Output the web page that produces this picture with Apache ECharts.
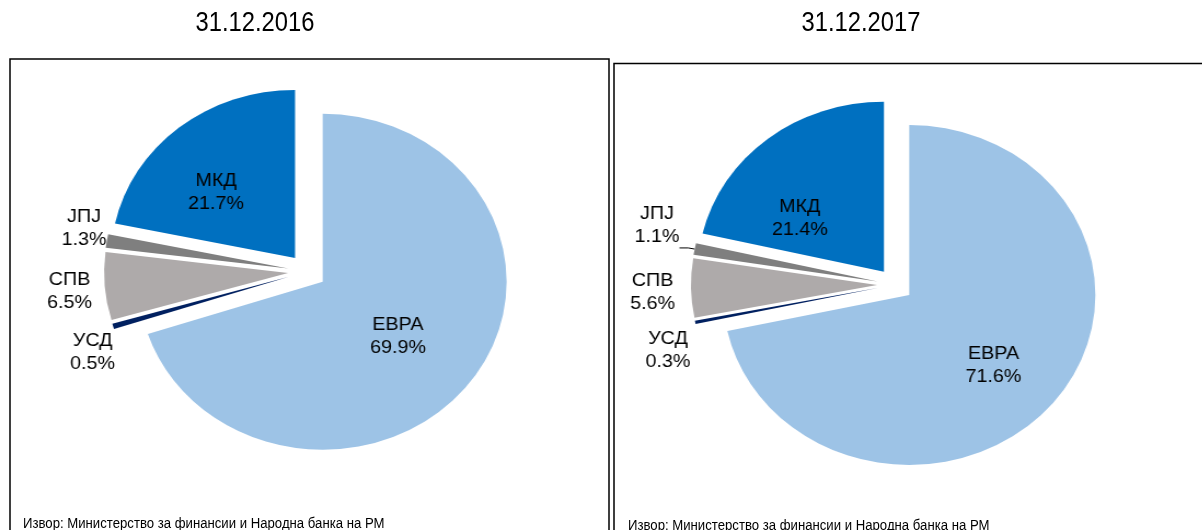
<!DOCTYPE html>
<html>
<head>
<meta charset="utf-8">
<script src="https://cdn.jsdelivr.net/npm/echarts@6/dist/echarts.min.js"></script>
<style>
html, body { margin: 0; padding: 0; background: #fff; }
#frame { position: absolute; left: 0; top: 0; width: 1202px; height: 530px; }
/* Excel chart was pasted stretched, so the pies are ellipses: stretch the pie layer */
#pies { position: absolute; left: 0; top: 0; width: 1098px; height: 530px;
        transform: scaleX(1.095); transform-origin: 0 0; }
</style>
</head>
<body>
<div id="frame"></div>
<div id="pies"></div>
<script>
// податоци
var categories = ['ЕВРА', 'УСД', 'СПВ', 'ЈПЈ', 'МКД'];
var share2016 = [69.9, 0.5, 6.5, 1.3, 21.7];
var share2017 = [71.6, 0.3, 5.6, 1.1, 21.4];
var panelTitles = ['31.12.2016', '31.12.2017'];
var sourceNote = 'Извор: Министерство за финансии и Народна банка на РМ';

var sliceColors = ['#9DC3E6', '#002060', '#AEAAAA', '#7F7F7F', '#0070C0'];
var stretch = 1.095;
var labelFont = 'Liberation Sans, Arial, sans-serif';

// label nudges from the library position (local px, per series / data index)
var labelNudge = [
    { 0: [-1.7, 4], 1: [0, 24.5], 2: [-13.2, 5], 3: [-1.8, -11.5], 4: [-17.3, 2.5] },
    { 0: [8.5, 15], 1: [-6, 26.5], 2: [-16, 4.5], 3: [-15.5, -22], 4: [-22, 15.5] }
];

// рамки, наслови, извор
var frameChart = echarts.init(document.getElementById('frame'));
frameChart.setOption({
    animation: false,
    graphic: [
        { type: 'rect', shape: { x: 10, y: 59, width: 599, height: 500 },
          style: { fill: 'none', stroke: '#000', lineWidth: 1.5 } },
        { type: 'rect', shape: { x: 614, y: 63.5, width: 620, height: 500 },
          style: { fill: 'none', stroke: '#000', lineWidth: 1.5 } },
        { type: 'text', x: 255, y: 24, scaleX: 0.88,
          style: { text: panelTitles[0], font: '27px "Liberation Sans", Arial', fill: '#000',
                   textAlign: 'center', textVerticalAlign: 'middle' } },
        { type: 'text', x: 861, y: 24, scaleX: 0.88,
          style: { text: panelTitles[1], font: '27px "Liberation Sans", Arial', fill: '#000',
                   textAlign: 'center', textVerticalAlign: 'middle' } },
        { type: 'text', x: 23, y: 524, scaleX: 0.94,
          style: { text: sourceNote, font: '14px "Liberation Sans", Arial', fill: '#000',
                   textAlign: 'left', textVerticalAlign: 'middle' } },
        { type: 'text', x: 628, y: 526, scaleX: 0.94,
          style: { text: sourceNote, font: '14px "Liberation Sans", Arial', fill: '#000',
                   textAlign: 'left', textVerticalAlign: 'middle' } }
    ]
});

function buildData(values, withLeader) {
    return categories.map(function (name, i) {
        var outside = (i >= 1 && i <= 3);
        return {
            name: name,
            value: values[i],
            selected: true,
            itemStyle: { color: sliceColors[i] },
            label: { position: outside ? 'outside' : 'inside' },
            labelLine: { show: outside && withLeader && i === 3, length: 6, length2: 8,
                         lineStyle: { color: '#000', width: 1 } }
        };
    });
}

function pieSeries(values, center, radius, offset, withLeader) {
    return {
        type: 'pie',
        center: center,
        radius: radius,
        startAngle: 90,
        clockwise: true,
        selectedMode: 'multiple',
        selectedOffset: offset,
        avoidLabelOverlap: false,
        silent: true,
        emphasis: { disabled: true },
        itemStyle: { borderWidth: 0 },
        label: {
            show: true,
            color: '#000',
            fontFamily: labelFont,
            fontSize: 18,
            lineHeight: 23,
            formatter: function (p) { return '{c|' + p.name + '}\n{c|' + p.value.toFixed(1) + '%}'; },
            rich: { c: { align: 'center', fontFamily: labelFont, fontSize: 18, lineHeight: 23, color: '#000' } }
        },
        labelLayout: function (params) {
            var n = labelNudge[params.seriesIndex][params.dataIndex] || [0, 0];
            return { dx: n[0], dy: n[1], align: 'center', verticalAlign: 'middle' };
        },
        data: buildData(values, withLeader)
    };
}

var pieChart = echarts.init(document.getElementById('pies'));
pieChart.setOption({
    animation: false,
    series: [
        pieSeries(share2016, [280.5, 271.5], 168, 17.5, false),
        pieSeries(share2017, [817.5, 284.6], 170, 16.5, true)
    ]
});
</script>
</body>
</html>
